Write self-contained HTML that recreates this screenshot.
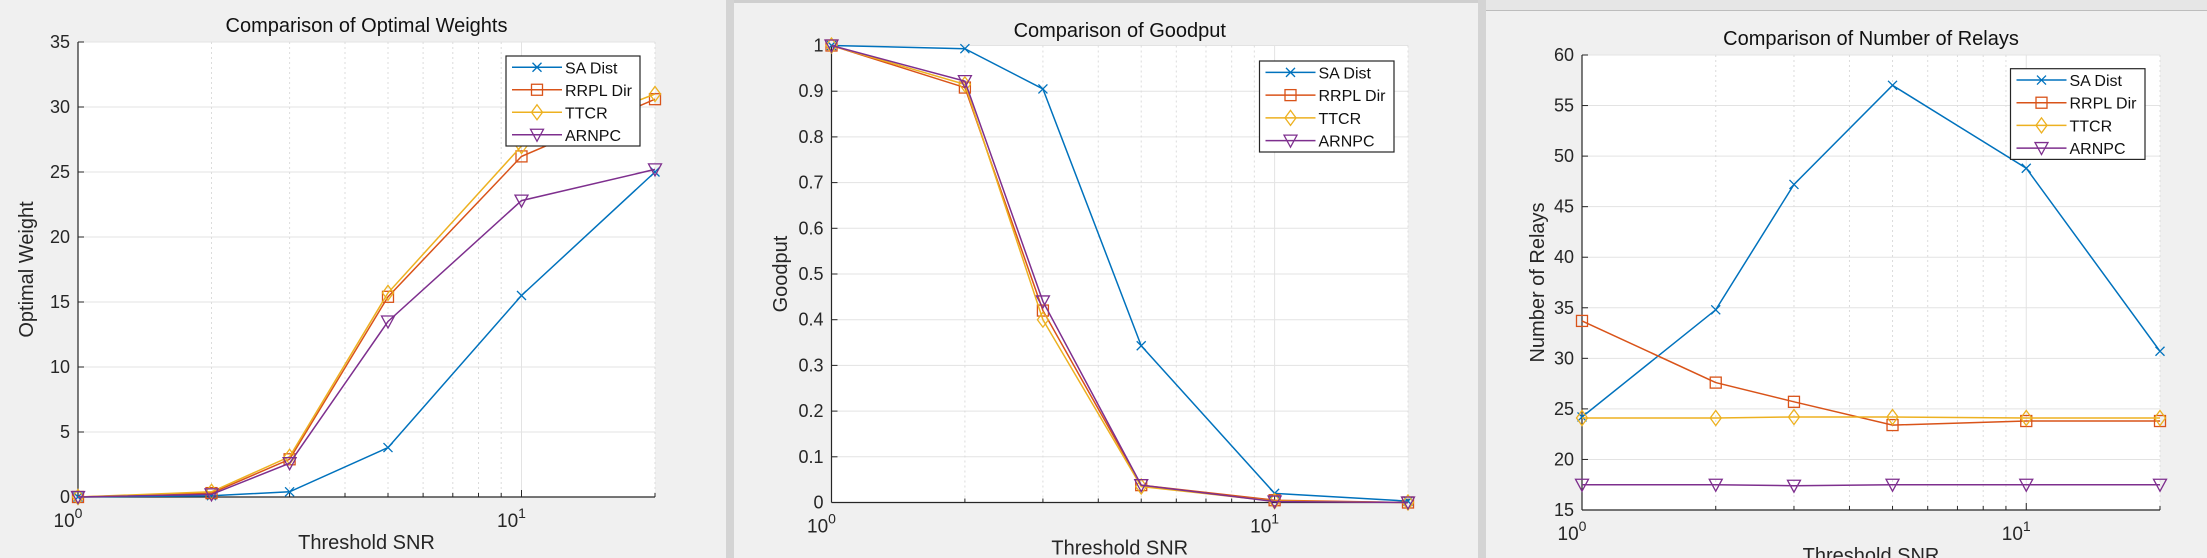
<!DOCTYPE html>
<html><head><meta charset="utf-8"><style>
html,body{margin:0;padding:0;background:#f0f0f0;}
svg{display:block;font-family:"Liberation Sans",Arial,sans-serif;}
</style></head><body>
<svg id="root" width="2207" height="558" viewBox="0 0 2207 558" xmlns="http://www.w3.org/2000/svg">
<rect x="0" y="0" width="2207" height="558" fill="#f0f0f0"/>
<rect x="726" y="0" width="8" height="558" fill="#d4d4d4"/>
<rect x="734" y="0" width="750" height="3" fill="#cfcfcf"/>
<rect x="1478" y="0" width="8" height="558" fill="#d4d4d4"/>
<rect x="1486" y="0" width="721" height="10" fill="#e6e6e6"/>
<line x1="1486" y1="10.5" x2="2207" y2="10.5" stroke="#bdbdbd"/>
</svg>
<script>
const xVals = [1, 2, 3, 5, 10, 20];
const seriesNames = ["SA Dist", "RRPL Dir", "TTCR", "ARNPC"];
const w_sa = [0, 0.1, 0.4, 3.8, 15.5, 25];
const w_rrpl = [0, 0.3, 2.9, 15.4, 26.2, 30.6];
const w_ttcr = [0, 0.4, 3.1, 15.7, 27, 31];
const w_arnpc = [0, 0.2, 2.6, 13.5, 22.8, 25.2];
const g_sa = [1, 0.993, 0.905, 0.343, 0.02, 0.003];
const g_rrpl = [1, 0.908, 0.42, 0.038, 0.005, 0];
const g_ttcr = [1, 0.915, 0.40, 0.035, 0.003, 0];
const g_arnpc = [1, 0.922, 0.44, 0.038, 0.002, 0];
const r_sa = [24.2, 34.8, 47.2, 57, 48.8, 30.7];
const r_rrpl = [33.7, 27.6, 25.7, 23.4, 23.8, 23.8];
const r_ttcr = [24.1, 24.1, 24.2, 24.2, 24.1, 24.1];
const r_arnpc = [17.5, 17.5, 17.4, 17.5, 17.5, 17.5];
const wTicks = [0, 5, 10, 15, 20, 25, 30, 35];
const gTicks = [0, 0.1, 0.2, 0.3, 0.4, 0.5, 0.6, 0.7, 0.8, 0.9, 1];
const gTickLabels = ["0", "0.1", "0.2", "0.3", "0.4", "0.5", "0.6", "0.7", "0.8", "0.9", "1"];
const rTicks = [15, 20, 25, 30, 35, 40, 45, 50, 55, 60];
const minorX = [2, 3, 4, 5, 6, 7, 8, 9, 20];

const colors = ["#0072BD", "#D95319", "#EDB120", "#7E2F8E"];
const markers = ["x", "s", "d", "v"];
const NS = "http://www.w3.org/2000/svg";
const root = document.getElementById("root");
function mk(tag, attrs, parent) {
  const e = document.createElementNS(NS, tag);
  for (const k in attrs) e.setAttribute(k, attrs[k]);
  (parent || root).appendChild(e);
  return e;
}
function marker(g, type, x, y, c) {
  const s = 5.5;
  let m;
  if (type === "x") m = mk("path", {d:`M${x-4.5} ${y-4.5}L${x+4.5} ${y+4.5}M${x-4.5} ${y+4.5}L${x+4.5} ${y-4.5}`, stroke:c, "stroke-width":1.3, fill:"none"}, g);
  else if (type === "s") m = mk("rect", {x:x-s, y:y-s, width:2*s, height:2*s, stroke:c, "stroke-width":1.3, fill:"none"}, g);
  else if (type === "d") m = mk("path", {d:`M${x} ${y-s-2}L${x+s} ${y}L${x} ${y+s+2}L${x-s} ${y}Z`, stroke:c, "stroke-width":1.3, fill:"none"}, g);
  else m = mk("path", {d:`M${x-s-1} ${y-s}L${x+s+1} ${y-s}L${x} ${y+s+1}Z`, stroke:c, "stroke-width":1.3, fill:"none"}, g);
  return m;
}
function drawChart(cfg) {
  const {L, R, T, B, ymin, ymax, yTicks, yLabels, title, titleY, ylabel, ylabelX, legend, series, name} = cfg;
  const g = mk("g", {});
  
  
  const xs = v => L + (R - L) * Math.log10(v) / Math.log10(20);
  const ys = v => B - (B - T) * (v - ymin) / (ymax - ymin);
  const plot = mk("rect", {x:L, y:T, width:R-L, height:B-T, fill:"#ffffff"}, g);
  
  
  yTicks.forEach((t, i) => {
    const y = ys(t);
    const gl = mk("line", {x1:L, x2:R, y1:y, y2:y, stroke:"#e3e3e3", "stroke-width":1}, g);
    
    
    mk("line", {x1:L, x2:L+6, y1:y, y2:y, stroke:"#262626"}, g);
    const tx = mk("text", {x:L-8, y:y+6, "text-anchor":"end", "font-size":18, fill:"#262626"}, g);
    tx.textContent = yLabels[i];
    
    
  });
  minorX.forEach(v => {
    const x = xs(v);
    const gl = mk("line", {x1:x, x2:x, y1:T, y2:B, stroke:"#dcdcdc", "stroke-dasharray":"2,3"}, g);
    
    
    mk("line", {x1:x, x2:x, y1:B, y2:B-4, stroke:"#262626"}, g);
  });
  [1, 10].forEach(v => {
    const x = xs(v);
    mk("line", {x1:x, x2:x, y1:T, y2:B, stroke:"#e3e3e3"}, g);
    mk("line", {x1:x, x2:x, y1:B, y2:B-7, stroke:"#262626"}, g);
    const tx = mk("text", {x:x-10, y:B+30, "text-anchor":"middle", "font-size":19, fill:"#262626"}, g);
    tx.textContent = "10";
    const sup = mk("tspan", {dy:-9, "font-size":14}, tx);
    sup.textContent = v === 1 ? "0" : "1";
    
    
  });
  mk("line", {x1:L, x2:L, y1:T, y2:B, stroke:"#262626", "stroke-width":1.2}, g);
  mk("line", {x1:L, x2:R, y1:B, y2:B, stroke:"#262626", "stroke-width":1.2}, g);
  const tt = mk("text", {x:(L+R)/2, y:titleY, "text-anchor":"middle", "font-size":20, fill:"#111"}, g);
  tt.textContent = title;
  
  
  const yl = mk("text", {x:ylabelX, y:(T+B)/2, "text-anchor":"middle", "font-size":20, fill:"#262626", transform:`rotate(-90 ${ylabelX} ${(T+B)/2})`}, g);
  yl.textContent = ylabel;
  
  
  const xl = mk("text", {x:(L+R)/2, y:B+52, "text-anchor":"middle", "font-size":20, fill:"#262626"}, g);
  xl.textContent = "Threshold SNR";
  
  
  series.forEach((vals, si) => {
    const sg = mk("g", {}, g);
    
    
    const pts = vals.map((v, i) => `${xs(xVals[i])},${ys(v)}`).join(" ");
    mk("polyline", {points:pts, fill:"none", stroke:colors[si], "stroke-width":1.5}, sg);
    vals.forEach((v, i) => {
      const m = marker(sg, markers[si], xs(xVals[i]), ys(v), colors[si]);
      
      
    });
  });
  const lg = mk("g", {}, g);
  
  
  mk("rect", {x:legend.x, y:legend.y, width:legend.w, height:legend.h, fill:"#fff", stroke:"#262626", "stroke-width":1.2}, lg);
  const step = legend.h / 4;
  seriesNames.forEach((n, i) => {
    const cy = legend.y + step * (i + 0.5);
    const eg = mk("g", {}, lg);
    
    
    mk("line", {x1:legend.x+6, x2:legend.x+56, y1:cy, y2:cy, stroke:colors[i], "stroke-width":1.5}, eg);
    marker(eg, markers[i], legend.x+31, cy, colors[i]);
    const t = mk("text", {x:legend.x+59, y:cy+6, "font-size":16, fill:"#111"}, eg);
    t.textContent = n;
  });
}
drawChart({name:"chart-optimal-weights", L:78, R:655, T:42, B:497, ymin:0, ymax:35, yTicks:wTicks, yLabels:wTicks.map(String),
  title:"Comparison of Optimal Weights", titleY:32, ylabel:"Optimal Weight", ylabelX:33,
  legend:{x:506, y:56, w:134, h:90}, series:[w_sa, w_rrpl, w_ttcr, w_arnpc]});
drawChart({name:"chart-goodput", L:831.5, R:1408, T:45.5, B:502.5, ymin:0, ymax:1, yTicks:gTicks, yLabels:gTickLabels,
  title:"Comparison of Goodput", titleY:37, ylabel:"Goodput", ylabelX:787,
  legend:{x:1259.5, y:61, w:134.5, h:91}, series:[g_sa, g_rrpl, g_ttcr, g_arnpc]});
drawChart({name:"chart-number-of-relays", L:1582, R:2160, T:55, B:510, ymin:15, ymax:60, yTicks:rTicks, yLabels:rTicks.map(String),
  title:"Comparison of Number of Relays", titleY:45, ylabel:"Number of Relays", ylabelX:1544,
  legend:{x:2010.5, y:68.7, w:134.5, h:90.7}, series:[r_sa, r_rrpl, r_ttcr, r_arnpc]});
</script>
</body></html>
